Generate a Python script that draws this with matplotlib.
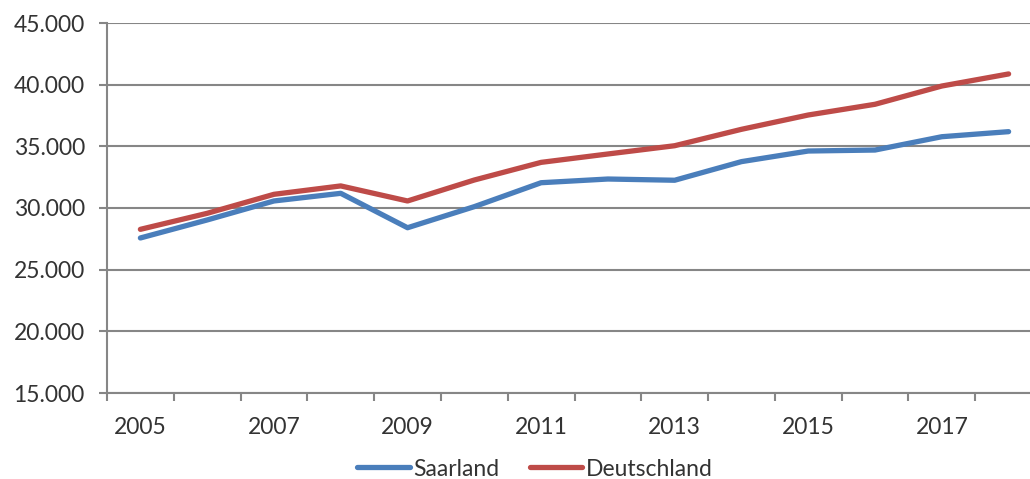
import matplotlib.pyplot as plt
import numpy as np
from matplotlib.ticker import FuncFormatter

years = list(range(2005, 2019))
saarland = [27570, 29030, 30570, 31190, 28400, 30110, 32050, 32350, 32250,
            33760, 34620, 34700, 35780, 36190]
deutschland = [28270, 29570, 31110, 31790, 30570, 32270, 33700, 34380, 35050,
               36380, 37540, 38410, 39890, 40870]
year_labels = [2005, 2007, 2009, 2011, 2013, 2015, 2017]

BLUE = '#4A7EBB'
RED = '#BE4B48'
GRID = '#868686'
TEXT = '#333333'

plt.rcParams['font.family'] = ['Lato', 'DejaVu Sans']

fig = plt.figure(figsize=(10.30, 4.79), dpi=100)
ax = fig.add_axes([107 / 1030, 86 / 479, 935 / 1030, 370 / 479])

ax.plot(years, saarland, color=BLUE, lw=3.8, solid_capstyle='round',
        solid_joinstyle='round', label='Saarland', zorder=3)
ax.plot(years, deutschland, color=RED, lw=3.8, solid_capstyle='round',
        solid_joinstyle='round', label='Deutschland', zorder=3)

ax.set_xlim(2004.5, 2018.5)
ax.set_ylim(15000, 45000)
ax.set_yticks(np.arange(15000, 45001, 5000))
ax.yaxis.set_major_formatter(FuncFormatter(lambda v, p: f'{v:,.0f}'.replace(',', '.')))
ax.yaxis.grid(True, color=GRID, lw=1.5)
ax.set_axisbelow(True)

# category labels every second year, tick marks between categories
ax.set_xticks(year_labels)
ax.set_xticks(np.arange(2004.5, 2019, 1), minor=True)
ax.tick_params(axis='x', which='major', length=0, pad=17, labelsize=16.5, labelcolor=TEXT)
ax.tick_params(axis='x', which='minor', length=6, width=1.5, color=GRID)
ax.tick_params(axis='y', length=6, width=1.5, color=GRID, pad=10, labelsize=16.5,
               labelcolor=TEXT)

for side in ['top', 'right']:
    ax.spines[side].set_visible(False)
for side in ['left', 'bottom']:
    ax.spines[side].set_color(GRID)
    ax.spines[side].set_linewidth(1.5)

fig.legend(loc='center', bbox_to_anchor=(535 / 1030, 1 - 469 / 479), ncol=2,
           frameon=False, fontsize=16.5, handlelength=2.3, handletextpad=0.15,
           columnspacing=1.3, labelcolor=TEXT)

fig.savefig('out.png', dpi=100, facecolor='white')
